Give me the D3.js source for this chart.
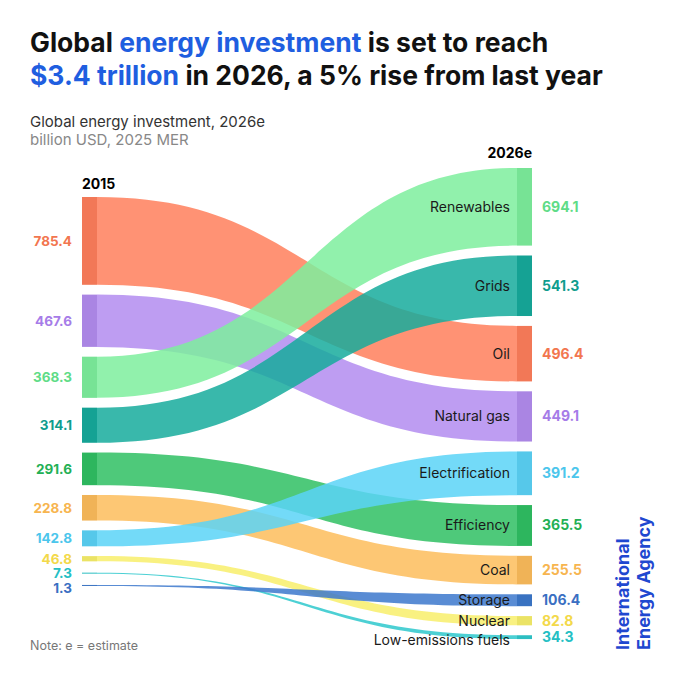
<!DOCTYPE html>
<html><head><meta charset="utf-8">
<script src="https://cdn.jsdelivr.net/npm/d3@7"></script>
<style>body{margin:0;background:#fff}svg{font-family:Inter,"Noto Sans",sans-serif}</style>
</head><body><svg id="c" width="680" height="680"></svg>
<script>
// --- data ---
const categories = ['Oil','Natural gas','Renewables','Grids','Efficiency','Coal','Electrification','Nuclear','Low-emissions fuels','Storage'];
const values2015 = [785.4, 467.6, 368.3, 314.1, 291.6, 228.8, 142.8, 46.8, 7.3, 1.3];
const values2026 = [496.4, 449.1, 694.1, 541.3, 365.5, 255.5, 391.2, 82.8, 34.3, 106.4];
const order2026 = ['Renewables','Grids','Oil','Natural gas','Electrification','Efficiency','Coal','Storage','Nuclear','Low-emissions fuels'];
const colors = ['#ff7f5c','#b38cf0','#7eef9d','#16ab9c','#2fc063','#fdbd5c','#5bd3f7','#f8ef6b','#2ec8cc','#3c78cc'];
const labelColors = ['#f2764f','#a67ce8','#5fdc87','#0f9d8e','#23b055','#f7b54f','#4cc6ec','#f3d94a','#25bfc4','#3a6fc2'];

const svg = d3.select('#c');
const k = 0.1118, gapL = 9.8, gapR = 9.9;
const h = d3.scaleLinear().domain([0, 1]).range([0, k]);

const nodes = categories.map((c, i) => ({name: c, v0: values2015[i], v1: values2026[i], color: colors[i], lc: labelColors[i]}));
let y = 197;
nodes.forEach(n => { n.y0 = y; n.h0 = Math.max(h(n.v0), 1); y += n.h0 + (n.h0 < 8 ? gapL + 1.5 : gapL); });
y = 168;
order2026.forEach(name => { const n = nodes.find(d => d.name === name); n.y1 = y; n.h1 = h(n.v1); y += n.h1 + gapR; });
// left label positions, kept apart
let prev = -Infinity;
nodes.forEach(n => { n.ly = Math.max(n.y0 + n.h0 / 2 + 5, prev + 14.5); prev = n.ly; });

const xL = 82, bw = 15, xR = 517;
function band(n) {
  const x0 = xL + bw, x1 = xR, xm = (x0 + x1) / 2;
  const a = n.y0, b = n.y0 + n.h0, c = n.y1, d = n.y1 + n.h1;
  return `M${x0},${a}C${xm},${a} ${xm},${c} ${x1},${c}L${x1},${d}C${xm},${d} ${xm},${b} ${x0},${b}Z`;
}
svg.append('g').selectAll('path').data(nodes).join('path')
  .attr('d', band).attr('fill', d => d.color).attr('fill-opacity', 0.85);
svg.append('g').selectAll('rect').data(nodes).join('rect')
  .attr('x', xL).attr('y', d => d.y0).attr('width', bw).attr('height', d => d.h0).attr('fill', d => d3.color(d.color).darker(0.15));
svg.append('g').selectAll('rect').data(nodes).join('rect')
  .attr('x', xR).attr('y', d => d.y1).attr('width', bw).attr('height', d => d.h1).attr('fill', d => d3.color(d.color).darker(0.15));

// left values
svg.append('g').selectAll('text').data(nodes).join('text')
  .attr('x', 72).attr('y', d => d.ly).attr('text-anchor', 'end')
  .attr('font-size', 13.5).attr('font-weight', 700).attr('fill', d => d.lc).text(d => d.v0.toFixed(1));
// right values and names
svg.append('g').selectAll('text').data(nodes).join('text')
  .attr('x', 542).attr('y', d => d.y1 + d.h1 / 2 + 5)
  .attr('font-size', 14).attr('font-weight', 700).attr('fill', d => d.lc).text(d => d.v1.toFixed(1));
svg.append('g').selectAll('text').data(nodes).join('text')
  .attr('x', 510).attr('y', d => d.y1 + Math.max(d.h1, 10) / 2 + 5).attr('text-anchor', 'end')
  .attr('font-size', 14).attr('fill', '#1a1a1a').text(d => d.name);

// titles
const t1 = svg.append('text').attr('x', 30).attr('y', 52).attr('font-size', 26.5).attr('font-weight', 700).attr('fill', '#111');
t1.append('tspan').text('Global ');
t1.append('tspan').attr('fill', '#1f5ee0').text('energy investment');
t1.append('tspan').text(' is set to reach');
const t2 = svg.append('text').attr('x', 30).attr('y', 85).attr('font-size', 26.5).attr('font-weight', 700).attr('fill', '#111');
t2.append('tspan').attr('fill', '#1f5ee0').text('$3.4 trillion');
t2.append('tspan').text(' in 2026, a 5% rise from last year');
svg.append('text').attr('x', 30).attr('y', 127).attr('font-size', 15).attr('fill', '#333').text('Global energy investment, 2026e');
svg.append('text').attr('x', 30).attr('y', 145).attr('font-size', 15).attr('fill', '#888').text('billion USD, 2025 MER');
svg.append('text').attr('x', 82).attr('y', 189).attr('font-size', 14).attr('font-weight', 700).text('2015');
svg.append('text').attr('x', 532).attr('y', 158).attr('text-anchor', 'end').attr('font-size', 14).attr('font-weight', 700).text('2026e');
svg.append('text').attr('x', 30).attr('y', 650).attr('font-size', 12.5).attr('fill', '#777').text('Note: e = estimate');

const iea = svg.append('g').attr('transform', 'translate(629,650) rotate(-90)')
  .attr('font-size', 18).attr('font-weight', 700).attr('fill', '#1f48d0');
iea.append('text').attr('x', 0).attr('y', 0).text('International');
iea.append('text').attr('x', 0).attr('y', 21).text('Energy Agency');
</script></body></html>
